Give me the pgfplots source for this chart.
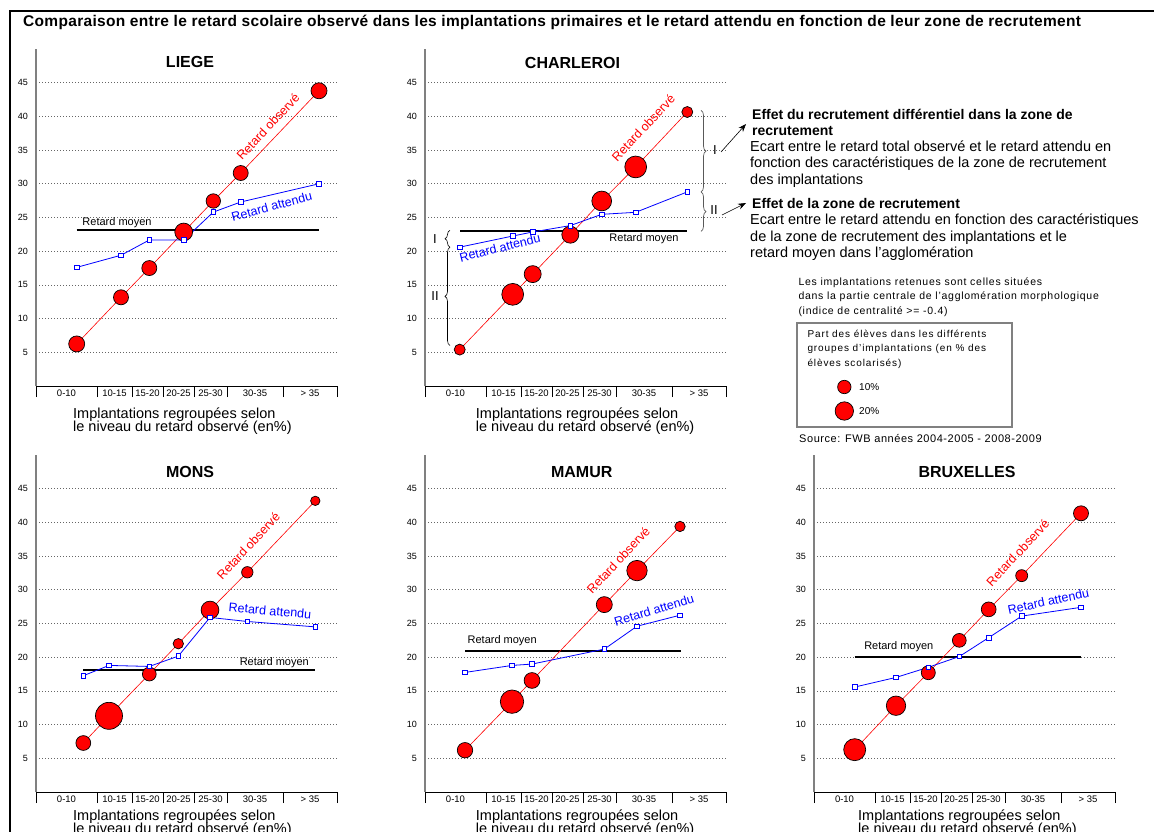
\documentclass[border=0pt]{standalone}
\usepackage{fontspec}
\setmainfont{Liberation Sans}
\usepackage{graphicx}
\usepackage{pgfplots}
\usepackage{pgfplotstable}
\pgfplotsset{compat=1.18}
\usetikzlibrary{decorations.pathreplacing,arrows.meta}

\newcommand\fs[1]{\fontsize{#1}{#1}\selectfont}
\newcommand\ls[1]{\addfontfeature{LetterSpace=#1}}

% x = place on the axis, y = retard observe, r = bubble radius, e = retard attendu
\pgfplotstableread{
x     y     r    e
40.7  6.24  8.0  17.6
85    13.16 7.5  19.4
113.3 17.5  7.5  21.66
147.7 22.85 8.9  21.66
177.3 27.45 7.2  25.8
204.7 31.6  7.5  27.3
283   43.8  8.0  30.0
}\liege
\pgfplotstableread{
x     y     r    e
34.7  5.4   5.5  20.6
87.7  13.6  10.9 22.25
107.7 16.6  8.5  22.85
145.3 22.45 8.5  23.8
176.7 27.45 9.9  25.47
210.7 32.5  10.9 25.77
262.3 40.65 5.5  28.8
}\charleroi
\pgfplotstableread{
x     y     r    e
47.3  7.27  7.4  17.25
73    11.3  13.5 18.78
113.3 17.5  6.9  18.63
142.3 22.0  5.2  20.16
174   27.0  8.9  25.9
211.3 32.6  5.7  25.3
279.3 43.2  4.7  24.5
}\mons
\pgfplotstableread{
x     y     r    e
40    6.2   7.7  17.74
87    13.4  11.7 18.78
107   16.55 7.9  18.98
179.3 27.8  8.0  21.2
212   32.85 10.2 24.6
255   39.4  5.2  26.23
}\mamur
\pgfplotstableread{
x     y     r    e
40.7  6.28  11.0 15.57
82    12.8  9.7  17.0
114.3 17.7  7.0  18.5
145.3 22.5  6.9  20.1
174.7 27.1  7.4  22.9
207.7 32.1  6.0  26.1
267   41.35 7.5  27.4
}\bruxelles

\pgfplotsset{
  panel/.style={
    scale only axis, width=301pt, height=337pt,
    xmin=0, xmax=301, ymin=0, ymax=50,
    anchor=north west, clip=false,
    axis x line*=bottom, axis y line*=left,
    axis line style={-},
    x axis line style={black, line width=0.8pt},
    y axis line style={gray, line width=1.4pt},
    ytick={5,10,...,45},
    ymajorgrids,
    grid style={gray!80!black, line width=0.7pt, dash pattern=on 1.4pt off 1.6pt},
    major tick length=0pt,
    /pgf/number format/assume math mode=true,
    yticklabel style={font=\fs{9}, inner sep=0pt, xshift=-8pt},
    xtick={30.5,78.5,111.5,142.5,174.5,219,274},
    xticklabels={0-10,10-15,15-20,20-25,25-30,30-35,> 35},
    xticklabel style={font=\fs{9.5}, inner sep=0pt, yshift=-3.5pt},
    extra x ticks={0,61,96,127,158,191,247,301},
    extra x tick labels={,,,,,,,},
    extra x tick style={major tick length=11pt, tick align=outside,
      tick style={black, line width=0.8pt}},
  },
  obsline/.style={red, line width=0.6pt, no marks},
  obs/.style={scatter, only marks, mark=*,
    scatter/use mapped color={draw=black, fill=red},
    mark options={line width=0.7pt},
    visualization depends on={\thisrow{r} \as \rr},
    scatter/@pre marker code/.append style={/tikz/mark size=\rr}},
  att/.style={blue, line width=0.8pt, mark=square*, mark size=2.3pt,
    mark options={fill=white, draw=blue, line width=0.7pt, solid}},
  moy/.style={black, line width=2pt, no marks},
}
\tikzset{
  lbobs/.style={text=red, font=\fs{12.5}, rotate=47, inner sep=0pt},
  lbatt/.style={text=blue, font=\fs{12.5}, inner sep=0pt},
  lbmoy/.style={font=\fs{11}, inner sep=0pt},
  xl/.style={anchor=base west, inner sep=0pt, font=\fs{14.5}},
  ptitle/.style={font=\bfseries\fs{16}, inner sep=0pt},
}

\begin{document}
\begin{tikzpicture}
\useasboundingbox (0,0) rectangle (1154pt,-832pt);

% LIEGE
\begin{axis}[panel, at={(36pt,-49pt)}]
\addplot[moy] coordinates {(40.7,23.15) (283,23.15)};
\addplot[obsline] table[x=x,y=y] {\liege};
\addplot[obs] table[x=x,y=y] {\liege};
\addplot[att] table[x=x,y=e] {\liege};
\node[lbmoy] at (axis cs:81,24.3) {Retard moyen};
\node[lbobs] at (axis cs:232,38.5) {Retard observé};
\node[lbatt, rotate=15] at (axis cs:235.7,26.65) {Retard attendu};
\end{axis}

% CHARLEROI
\begin{axis}[panel, at={(425pt,-49pt)}]
\addplot[moy] coordinates {(35.3,22.95) (262.3,22.95)};
\addplot[obsline] table[x=x,y=y] {\charleroi};
\addplot[obs] table[x=x,y=y] {\charleroi};
\addplot[att] table[x=x,y=e] {\charleroi};
\node[lbmoy] at (axis cs:219,21.8) {Retard moyen};
\node[lbobs] at (axis cs:218.3,38.3) {Retard observé};
\node[lbatt, rotate=14] at (axis cs:75,20.5) {Retard attendu};
\draw[decorate, decoration={brace, amplitude=5pt}, line width=0.6pt]
  (axis cs:25,20.6) -- (axis cs:25,23.1);
\draw[decorate, decoration={brace, amplitude=5pt}, line width=0.6pt]
  (axis cs:25,6.0) -- (axis cs:25,20.6);
\node[font=\fs{13}] at (axis cs:10,21.8) {I};
\node[font=\fs{13}] at (axis cs:10,13.4) {II};
\draw[decorate, decoration={brace, amplitude=5pt}, gray!70!black, line width=0.7pt]
  (axis cs:276,40.9) -- (axis cs:276,28.8);
\draw[decorate, decoration={brace, amplitude=5pt}, gray!70!black, line width=0.7pt]
  (axis cs:276,28.8) -- (axis cs:276,22.95);
\node[font=\fs{13}] at (axis cs:290,35.0) {I};
\node[font=\fs{13}] at (axis cs:289,26.1) {II};
\end{axis}

% MONS
\begin{axis}[panel, at={(36pt,-455pt)}]
\addplot[moy] coordinates {(47.3,18.1) (279.3,18.1)};
\addplot[obsline] table[x=x,y=y] {\mons};
\addplot[obs] table[x=x,y=y] {\mons};
\addplot[att] table[x=x,y=e] {\mons};
\node[lbmoy] at (axis cs:238.3,19.2) {Retard moyen};
\node[lbobs] at (axis cs:212.3,36.5) {Retard observé};
\node[lbatt, rotate=-5] at (axis cs:234,26.9) {Retard attendu};
\end{axis}

% MAMUR
\begin{axis}[panel, at={(425pt,-455pt)}]
\addplot[moy] coordinates {(40,20.85) (256,20.85)};
\addplot[obsline] table[x=x,y=y] {\mamur};
\addplot[obs] table[x=x,y=y] {\mamur};
\addplot[att] table[x=x,y=e] {\mamur};
\node[lbmoy] at (axis cs:77.2,22.4) {Retard moyen};
\node[lbobs] at (axis cs:193.3,34.4) {Retard observé};
\node[lbatt, rotate=17] at (axis cs:229,27.0) {Retard attendu};
\end{axis}

% BRUXELLES
\begin{axis}[panel, at={(814pt,-455pt)}]
\addplot[moy] coordinates {(40.7,20.06) (267,20.06)};
\addplot[obsline] table[x=x,y=y] {\bruxelles};
\addplot[obs] table[x=x,y=y] {\bruxelles};
\addplot[att] table[x=x,y=e] {\bruxelles};
\node[lbmoy] at (axis cs:84.8,21.5) {Retard moyen};
\node[lbobs] at (axis cs:203.7,35.5) {Retard observé};
\node[lbatt, rotate=12] at (axis cs:234.3,28.3) {Retard attendu};
\end{axis}

% legend of the bubble sizes
\begin{axis}[at={(836pt,-411pt)}, anchor=south west, scale only axis,
  width=16pt, height=24pt, xmin=0, xmax=16, ymin=0, ymax=24,
  hide axis, clip=false]
\addplot[obs] table[row sep=\\] {x y r\\ 8.3 24 6.7\\ 8.3 0 9.2\\};
\node[anchor=west, inner sep=0pt, font=\fs{10}] at (axis cs:23,24) {10\%};
\node[anchor=west, inner sep=0pt, font=\fs{10}] at (axis cs:23,0) {20\%};
\end{axis}

\begin{scope}[x=1pt, y=-1pt]
\draw[line width=2pt] (10,834) -- (10,11) -- (1156,11);
\node[anchor=base west, inner sep=0pt, font=\bfseries\fs{15.5}\ls{2}] at (23,26.5)
  {Comparaison entre le retard scolaire observé dans les implantations primaires et le retard attendu en fonction de leur zone de recrutement};

\node[ptitle] at (190,62) {LIEGE};
\node[ptitle] at (572.5,63) {CHARLEROI};
\node[ptitle] at (190,472) {MONS};
\node[ptitle] at (581.7,472) {MAMUR};
\node[ptitle] at (967,472) {BRUXELLES};

\foreach \xx/\yy in {73/418, 475.7/418, 73/820, 475.7/820, 858/820} {
  \node[xl] at (\xx,\yy) {Implantations regroupées selon};
  \node[xl] at (\xx,\yy+13) {le niveau du retard observé (en\%)};
}

% annotations for Charleroi
\draw[-{Stealth[length=8pt,width=6pt]}, line width=0.6pt] (721,152) -- (746,124);
\draw[-{Stealth[length=8pt,width=6pt]}, line width=0.6pt] (722,215) -- (746,203);
\begin{scope}[every node/.style={anchor=base west, inner sep=0pt}]
\node[font=\bfseries\fs{14}] at (752,119.5) {Effet du recrutement différentiel dans la zone de};
\node[font=\bfseries\fs{14}] at (752,136) {recrutement};
\node[font=\fs{14.5}] at (750,151.5) {Ecart entre le retard total observé et le retard attendu en};
\node[font=\fs{14.5}] at (750,167.5) {fonction des caractéristiques de la zone de recrutement};
\node[font=\fs{14.5}] at (750,184) {des implantations};
\node[font=\bfseries\fs{14}] at (752,208.5) {Effet de la zone de recrutement};
\node[font=\fs{14.5}] at (750,224.5) {Ecart entre le retard attendu en fonction des caractéristiques};
\node[font=\fs{14.5}] at (750,241) {de la zone de recrutement des implantations et le};
\node[font=\fs{14.5}] at (750,257.5) {retard moyen dans l'agglomération};

\node[font=\fs{10.5}\ls{7}] at (798.3,285) {Les implantations retenues sont celles situées};
\node[font=\fs{10.5}\ls{7}] at (798.3,299.7) {dans la partie centrale de l'agglomération morphologique};
\node[font=\fs{10.5}\ls{7}] at (798.3,314.4) {(indice de centralité >= -0.4)};

\node[font=\fs{10}\ls{9}] at (807.3,337.3) {Part des élèves dans les différents};
\node[font=\fs{10}\ls{9}] at (807.3,351.8) {groupes d'implantations (en \% des};
\node[font=\fs{10}\ls{9}] at (807.3,366.5) {élèves scolarisés)};

\node[font=\fs{11}\ls{5}] at (799,442) {Source: FWB années 2004-2005 - 2008-2009};
\end{scope}
\draw[gray, line width=2pt] (797.3,323.3) rectangle (1011.7,426.7);
\end{scope}
\end{tikzpicture}
\end{document}
